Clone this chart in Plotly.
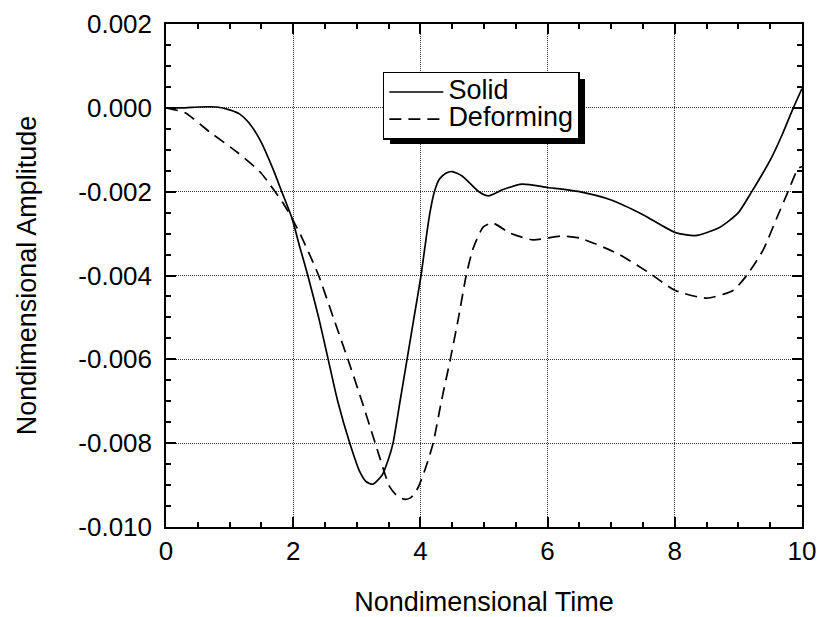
import plotly.graph_objects as go

# ---- data ----
solid_t = [0.0, 0.3, 0.5, 0.8, 1.0, 1.16, 1.3, 1.48, 1.68, 1.82, 1.98, 2.1, 2.23, 2.4, 2.55,
           2.7, 2.89, 3.05, 3.15, 3.25, 3.4, 3.5, 3.57, 3.68, 3.79, 3.9, 4.01, 4.1, 4.15,
           4.22, 4.3, 4.4, 4.5, 4.65, 4.78, 4.92, 5.07, 5.3, 5.6, 6.0, 6.5, 7.0, 7.5, 8.0,
           8.32, 8.71, 9.0, 9.21, 9.5, 9.7, 9.85, 10.0]
solid_v = [0.0, 0.0, 0.00002, 0.00002, -0.00005, -0.00015, -0.00035, -0.00077, -0.00145,
           -0.0020, -0.00263, -0.0033, -0.0040, -0.0050, -0.0060, -0.0070, -0.0080,
           -0.00869, -0.00892, -0.00898, -0.00876, -0.00837, -0.0080, -0.0070, -0.0060,
           -0.0050, -0.0040, -0.0030, -0.0025, -0.0020, -0.0017, -0.00156, -0.00152,
           -0.00162, -0.0018, -0.0020, -0.0021, -0.00195, -0.00182, -0.0019, -0.0020,
           -0.0022, -0.00255, -0.00297, -0.00305, -0.00285, -0.0025, -0.0020, -0.00125,
           -0.0006, -0.00005, 0.00046]

deform_t = [0.0, 0.3, 0.69, 1.12, 1.48, 1.64, 1.84, 1.98, 2.14, 2.26, 2.4, 2.63, 2.86, 3.08,
            3.29, 3.52, 3.65, 3.76, 3.85, 3.96, 4.08, 4.2, 4.33, 4.47, 4.6, 4.72, 4.83,
            4.99, 5.14, 5.41, 5.77, 6.2, 6.51, 7.09, 7.58, 8.0, 8.5, 8.92, 9.13, 9.39,
            9.6, 9.78, 9.94, 10.0]
deform_v = [0.0, -0.00012, -0.00058, -0.00106, -0.00153, -0.00184, -0.00227, -0.00263,
            -0.00311, -0.00351, -0.0040, -0.0050, -0.0060, -0.0070, -0.0080, -0.00905,
            -0.00928, -0.00934, -0.0093, -0.00907, -0.0086, -0.0080, -0.0070, -0.0060,
            -0.0050, -0.0040, -0.00335, -0.00284, -0.00275, -0.00299, -0.00315, -0.00306,
            -0.00311, -0.00347, -0.00392, -0.00435, -0.00454, -0.00435, -0.0040, -0.00339,
            -0.00264, -0.0020, -0.00145, -0.0014]

series_names = ["Solid", "Deforming"]

x_ticks = [0, 2, 4, 6, 8, 10]
x_tick_labels = ["0", "2", "4", "6", "8", "10"]
y_ticks = [0.002, 0.0, -0.002, -0.004, -0.006, -0.008, -0.010]
y_tick_labels = ["0.002", "0.000", "-0.002", "-0.004", "-0.006", "-0.008", "-0.010"]

FONT = "Liberation Sans, Arial, sans-serif"


def legend_label(s):
    return "<span style='font-size:27px'>" + s + "</span>"


fig = go.Figure()
fig.add_trace(go.Scatter(x=solid_t, y=solid_v, mode="lines", name=legend_label(series_names[0]),
                         line=dict(color="black", width=1.7, shape="spline", smoothing=0.6)))
fig.add_trace(go.Scatter(x=deform_t, y=deform_v, mode="lines", name=legend_label(series_names[1]),
                         line=dict(color="black", width=1.7, dash="12px,7px",
                                   shape="spline", smoothing=0.6)))

axis_common = dict(
    showline=True, linecolor="black", linewidth=1.5, mirror="allticks",
    ticks="inside", ticklen=10, tickwidth=1.5, tickcolor="black",
    showgrid=True, gridcolor="#333", gridwidth=1, griddash="1px,1px",
    zeroline=False, automargin=False,
    tickfont=dict(family=FONT, size=26, color="black"),
)

fig.update_xaxes(range=[0, 10], tickvals=x_ticks, ticktext=x_tick_labels,
                 ticklabeloverflow="allow",
                 minor=dict(dtick=0.5, ticks="inside", ticklen=5, tickwidth=1.5,
                            tickcolor="black", showgrid=False),
                 title=dict(text="Nondimensional Time", font=dict(family=FONT, size=27, color="black"),
                            standoff=28),
                 **axis_common)
fig.update_yaxes(range=[-0.010, 0.002], tickvals=y_ticks, ticktext=y_tick_labels,
                 ticklabelstandoff=7,
                 minor=dict(dtick=0.0005, ticks="inside", ticklen=5, tickwidth=1.5,
                            tickcolor="black", showgrid=False),
                 title=dict(text="Nondimensional Amplitude", font=dict(family=FONT, size=27, color="black"),
                            standoff=34),
                 **axis_common)

# drop shadow behind the legend box (paper coordinates)
fig.add_shape(type="rect", xref="paper", yref="paper",
              x0=0.3522, x1=0.6588, y0=0.7614, y1=0.8907,
              fillcolor="black", line=dict(width=0), layer="above")

fig.update_layout(
    width=817, height=617, autosize=False,
    margin=dict(l=166, r=15, t=24, b=90),
    plot_bgcolor="white", paper_bgcolor="white",
    showlegend=True,
    legend=dict(x=0.341, y=0.9046, xanchor="left", yanchor="top",
                bgcolor="white", bordercolor="black", borderwidth=1.5,
                font=dict(family=FONT, size=18.5, color="black"),
                tracegroupgap=0, itemwidth=54),
)

fig.write_html("out.html", config={"displayModeBar": False},
               post_script="document.body.style.margin='0';document.body.style.overflow='hidden';")
